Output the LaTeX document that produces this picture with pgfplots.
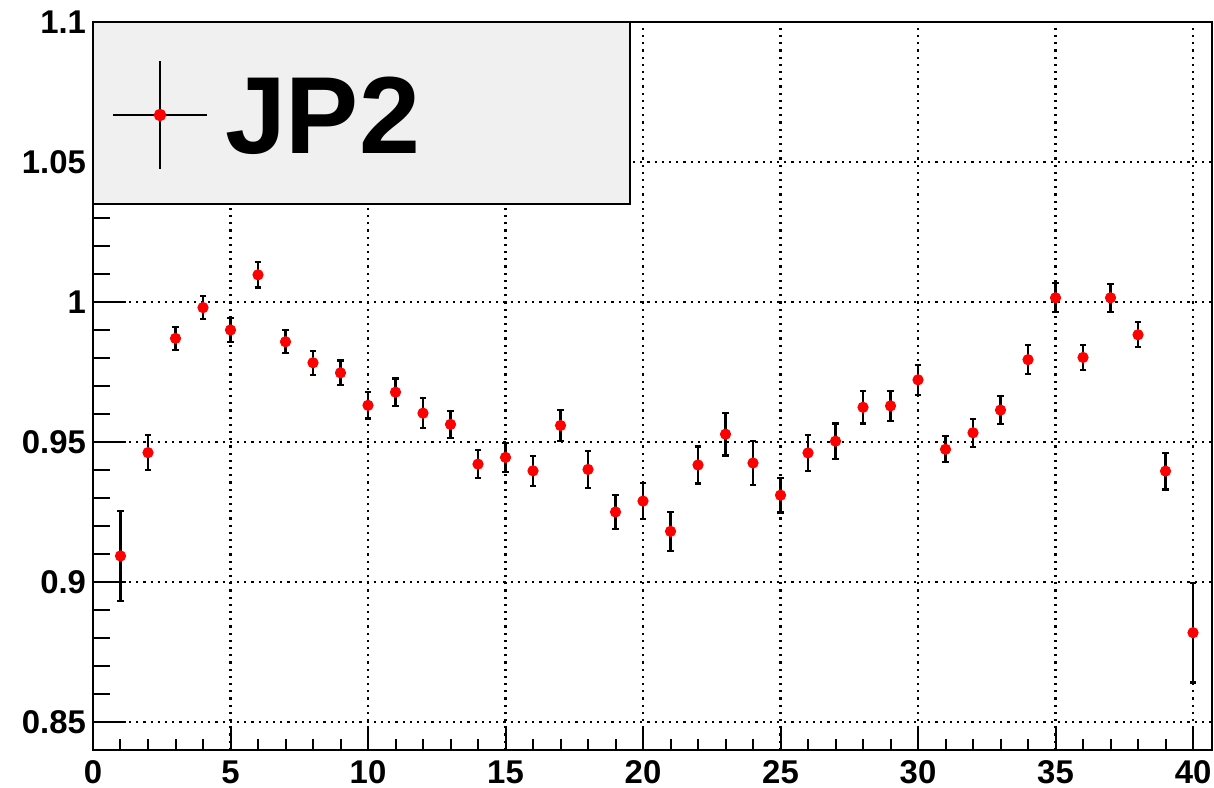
\documentclass[border=0pt]{standalone}
\usepackage{fontspec}
\setmainfont{Liberation Sans}
\usepackage{pgfplots}
\pgfplotsset{compat=1.18}
\usepackage{pgfplotstable}
\definecolor{legfill}{HTML}{F0F0F0}
\pgfplotstableread{
x y e
1 0.9093 0.0160
2 0.9462 0.0062
3 0.9870 0.0042
4 0.9980 0.0042
5 0.9900 0.0042
6 1.0097 0.0045
7 0.9858 0.0041
8 0.9783 0.0043
9 0.9747 0.0044
10 0.9631 0.0047
11 0.9678 0.0049
12 0.9603 0.0054
13 0.9563 0.0049
14 0.9421 0.0050
15 0.9445 0.0051
16 0.9397 0.0054
17 0.9559 0.0056
18 0.9402 0.0065
19 0.9250 0.0060
20 0.9289 0.0064
21 0.9181 0.0069
22 0.9418 0.0066
23 0.9528 0.0076
24 0.9425 0.0078
25 0.9310 0.0062
26 0.9461 0.0064
27 0.9503 0.0063
28 0.9624 0.0058
29 0.9629 0.0054
30 0.9722 0.0053
31 0.9474 0.0046
32 0.9533 0.0050
33 0.9614 0.0050
34 0.9794 0.0051
35 1.0015 0.0052
36 0.9802 0.0045
37 1.0015 0.0050
38 0.9883 0.0045
39 0.9396 0.0066
40 0.8819 0.0178
}\datatable
\begin{document}
\begin{tikzpicture}
\begin{axis}[
  scale only axis,
  width=559.5bp, height=364bp,
  xmin=0, xmax=40.69, ymin=0.84, ymax=1.1,
  axis line style={line width=1bp},
  xtick={0,5,...,40},
  ytick={0.85,0.9,0.95,1,1.05,1.1},
  minor x tick num=4, minor y tick num=4,
  xtick pos=bottom, ytick pos=left,
  tick align=inside,
  xtick style={black, line width=1bp, /pgfplots/major tick length=11bp, /pgfplots/minor tick length=5.5bp},
  ytick style={black, line width=1bp, /pgfplots/major tick length=16.5bp, /pgfplots/minor tick length=8.5bp},
  grid=major,
  major grid style={black, line width=1.1bp, dash pattern=on 1.1bp off 2.5bp},
  tick label style={font=\fontsize{16.5}{16.5}\selectfont\bfseries},
  /pgf/number format/assume math mode=true,
  yticklabel style={/pgf/number format/fixed},
  xticklabel style={yshift=-2bp},
  legend style={at={(rel axis cs:0,1)}, anchor=north west, draw=black, line width=1bp,
    fill=legfill, inner sep=0pt, outer sep=0pt, row sep=0pt, column sep=0pt,
    nodes={inner sep=0pt, outer sep=0pt}},
  legend image code/.code={
    \path[draw=none, fill=none] (0bp,-45.5bp) rectangle (267.5bp,45.5bp);
    \draw[black, line width=0.7bp, solid] (10bp,-1bp) -- (57bp,-1bp);
    \draw[black, line width=0.7bp, solid] (33.5bp,-28bp) -- (33.5bp,26bp);
    \fill[red] (33.5bp,-1bp) circle (2.6bp);
    \node[anchor=base west, inner sep=0pt, black, draw=none, fill=none, font=\fontsize{55}{55}\selectfont\bfseries] at (66bp,-20.5bp) {JP2};
  },
]
\addplot[only marks, mark=*, mark size=2.6bp, red, mark options={fill=red, draw=red},
  error bars/.cd, y dir=both, y explicit,
  error bar style={black, line width=1.1bp},
  error mark options={black, rotate=90, mark size=1.6bp, line width=1.1bp}]
  table[x=x, y=y, y error=e]{\datatable};
\addlegendentry{}
\end{axis}
\pgfresetboundingbox
\path ([shift={(-46.5bp,-19bp)}]current axis.south west) rectangle ([shift={(1bp,11bp)}]current axis.north east);
\end{tikzpicture}
\end{document}
